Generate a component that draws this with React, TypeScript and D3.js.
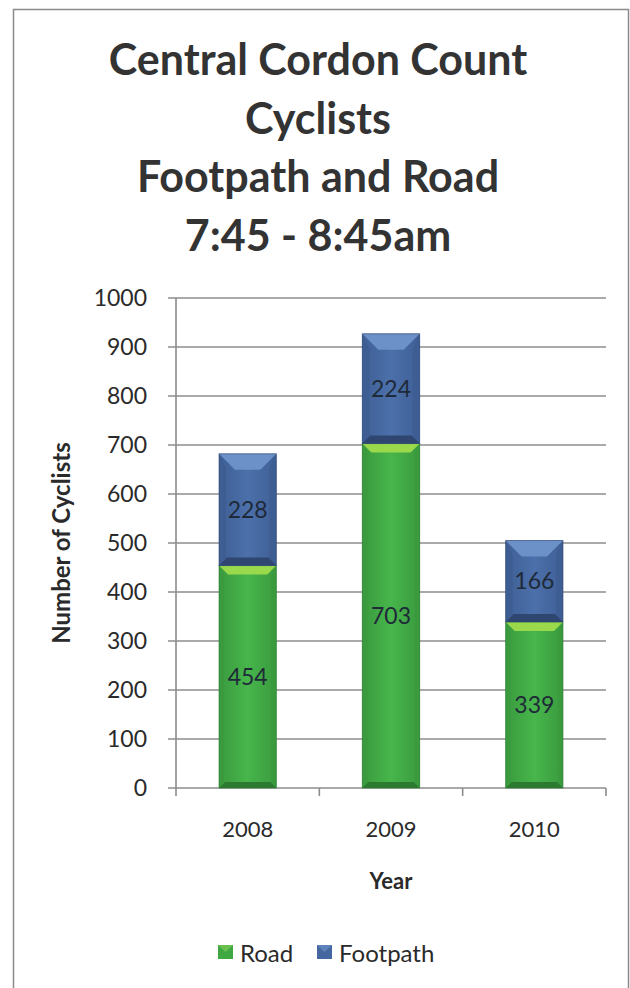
import React from "react";
import * as d3 from "d3";

const years = ["2008", "2009", "2010"];
const road = [454, 703, 339];
const footpath = [228, 224, 166];
const yTicks = [0, 100, 200, 300, 400, 500, 600, 700, 800, 900, 1000];
const titleLines = ["Central Cordon Count", "Cyclists", "Footpath and Road", "7:45 - 8:45am"];

const FONT = "Lato, 'Open Sans', sans-serif";

function BevelBar({ x, y, w, h, light, dark, side, topB, botB, sideB, id }: any) {
  const tb = Math.min(topB, h / 2);
  const bb = Math.min(botB, h / 2);
  return (
    <g>
      <rect x={x} y={y} width={w} height={h} fill={`url(#${id})`} />
      <polygon points={`${x},${y} ${x + sideB},${y + tb} ${x + sideB},${y + h - bb} ${x},${y + h}`} fill={side} />
      <polygon points={`${x + w},${y} ${x + w - sideB},${y + tb} ${x + w - sideB},${y + h - bb} ${x + w},${y + h}`} fill={side} />
      <polygon points={`${x},${y} ${x + w},${y} ${x + w - tb},${y + tb} ${x + tb},${y + tb}`} fill={light} />
      <polygon points={`${x},${y + h} ${x + w},${y + h} ${x + w - bb},${y + h - bb} ${x + bb},${y + h - bb}`} fill={dark} />
      <rect x={x} y={y} width={w} height={h} fill="none" stroke={dark} strokeWidth={1} opacity={0.6} />
    </g>
  );
}

export default function App() {
  const left = 176, right = 606, top = 298, bottom = 788;
  const x = d3.scaleBand().domain(years).range([left, right]).paddingInner(0.6).paddingOuter(0.3);
  const y = d3.scaleLinear().domain([0, 1000]).range([bottom, top]);
  const bw = x.bandwidth();
  const band = d3.scaleBand().domain(years).range([left, right]);

  return (
    <svg width={630} height={988} style={{ position: "absolute", left: 0, top: 0 }} fontFamily={FONT}>
      <defs>
        <linearGradient id="gGreen" x1="0" x2="1" y1="0" y2="0">
          <stop offset="0" stopColor="#3a9a3e" />
          <stop offset="0.5" stopColor="#47b64b" />
          <stop offset="1" stopColor="#3a9a3e" />
        </linearGradient>
        <linearGradient id="gBlue" x1="0" x2="1" y1="0" y2="0">
          <stop offset="0" stopColor="#3f5f95" />
          <stop offset="0.5" stopColor="#4c70ab" />
          <stop offset="1" stopColor="#3f5f95" />
        </linearGradient>
      </defs>
      <rect x={0} y={0} width={630} height={988} fill="#fff" />
      <path d="M13.5,988 V9.5 H628.5 V988" fill="none" stroke="#8a8a8a" strokeWidth={1.5} />

      {titleLines.map((t, i) => (
        <text key={t} x={318} y={75 + i * 58.5} textAnchor="middle" fontSize={43} fontWeight="bold" fill="#333">
          {t}
        </text>
      ))}

      {yTicks.map((t) => (
        <g key={t}>
          <line x1={left - 8} x2={right} y1={y(t)} y2={y(t)} stroke="#8c8c8c" strokeWidth={1.6} />
          <text x={147} y={y(t) + 8} textAnchor="end" fontSize={23} fill="#2a2a2a">
            {t}
          </text>
        </g>
      ))}
      <line x1={left} x2={left} y1={top} y2={bottom} stroke="#8c8c8c" strokeWidth={1.6} />
      {years.map((yr) => (
        <line key={yr} x1={(band(yr) as number) + band.bandwidth()} x2={(band(yr) as number) + band.bandwidth()} y1={bottom} y2={bottom + 8} stroke="#8c8c8c" strokeWidth={1.6} />
      ))}
      <line x1={left} x2={left} y1={bottom} y2={bottom + 8} stroke="#8c8c8c" strokeWidth={1.6} />

      {years.map((yr, i) => {
        const bx = x(yr) as number;
        const r0 = y(0), r1 = y(road[i]);
        const f1 = y(road[i] + footpath[i]);
        return (
          <g key={yr}>
            <BevelBar id="gGreen" x={bx} y={r1} w={bw} h={r0 - r1} light="#9ad84c" dark="#2c7a30" side="#3a9a3e" topB={9} botB={6} sideB={5} />
            <BevelBar id="gBlue" x={bx} y={f1} w={bw} h={r1 - f1} light="#6c90c8" dark="#2f4670" side="#3e5d92" topB={16} botB={8} sideB={7} />
            <text x={bx + bw / 2} y={(r0 + r1) / 2 + 8} textAnchor="middle" fontSize={23} fill="#1e2a38">
              {road[i]}
            </text>
            <text x={bx + bw / 2} y={(r1 + f1) / 2 + 8} textAnchor="middle" fontSize={23} fill="#1e2a38">
              {footpath[i]}
            </text>
            <text x={(band(yr) as number) + band.bandwidth() / 2} y={837} textAnchor="middle" fontSize={22} fill="#2a2a2a">
              {yr}
            </text>
          </g>
        );
      })}

      <text x={(left + right) / 2} y={889} textAnchor="middle" fontSize={22} fontWeight="bold" fill="#2a2a2a">
        Year
      </text>
      <text transform={`translate(70,543) rotate(-90)`} textAnchor="middle" fontSize={24} fontWeight="bold" fill="#2a2a2a">
        Number of Cyclists
      </text>

      <g>
        <rect x={218} y={945} width={15} height={14} fill="#3fa843" />
        <polygon points="218,945 233,945 225.5,952" fill="#7fcc55" opacity={0.7} />
        <text x={240} y={962} fontSize={24} fill="#2a2a2a">Road</text>
        <rect x={317} y={945} width={15} height={14} fill="#4467a0" />
        <polygon points="317,945 332,945 324.5,952" fill="#6a8fc6" opacity={0.7} />
        <text x={339} y={962} fontSize={24} fill="#2a2a2a">Footpath</text>
      </g>
    </svg>
  );
}
